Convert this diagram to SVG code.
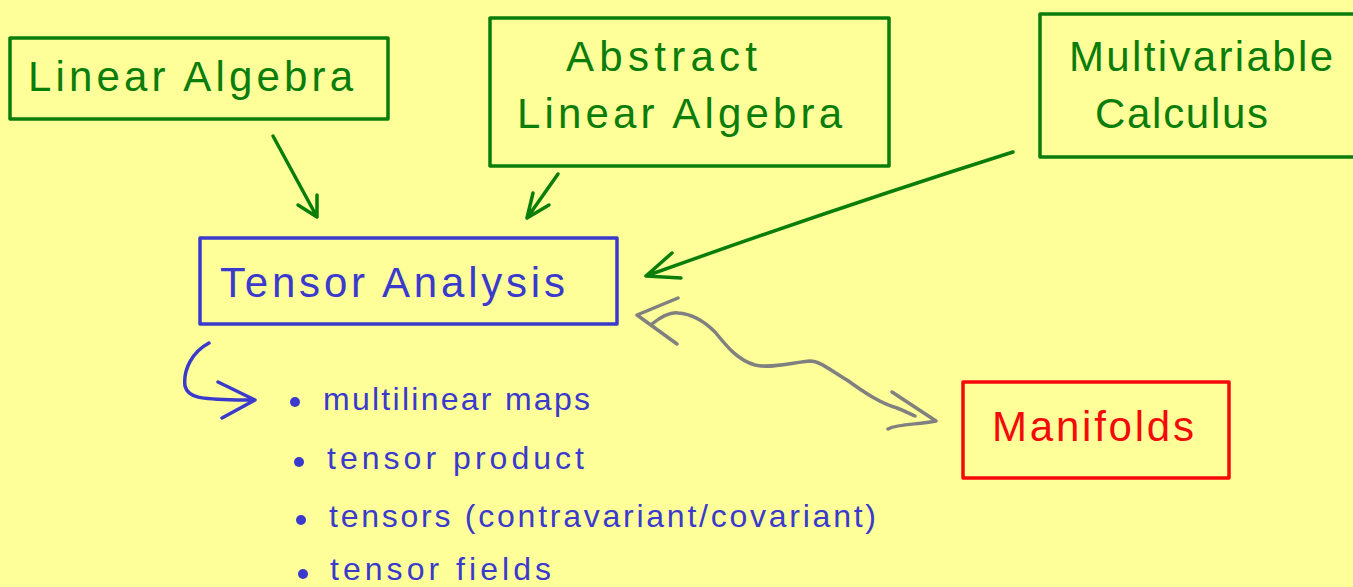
<svg xmlns="http://www.w3.org/2000/svg" width="1353" height="587" viewBox="0 0 1353 587">
<style>
.bx{fill:none;stroke-width:3.5;stroke-linejoin:round}
.g{stroke:#0a7d0a}
.b{stroke:#3a3acc}
.r{stroke:#f50a0a}
.t{font-family:"Liberation Sans",Arial,sans-serif;font-size:42px}
.tg{fill:#0a7d0a}
.tb{fill:#3a3acc}
.tr{fill:#f50a0a}
.li{font-family:"Liberation Sans",Arial,sans-serif;font-size:32px;fill:#3a3acc}
.ln{fill:none;stroke-width:3.5;stroke-linecap:round;stroke-linejoin:round}
</style>
<rect x="0" y="0" width="1353" height="587" fill="#ffff99"/>
<g id="linear-algebra">
<rect class="bx g" x="10" y="38" width="378" height="81"/>
<text class="t tg" x="28" y="91" textLength="325" lengthAdjust="spacing">Linear Algebra</text>
</g>
<g id="abstract-linear-algebra">
<rect class="bx g" x="490" y="18" width="399" height="148"/>
<text class="t tg" x="566" y="71" textLength="191" lengthAdjust="spacing">Abstract</text>
<text class="t tg" x="517" y="128" textLength="325" lengthAdjust="spacing">Linear Algebra</text>
</g>
<g id="multivariable-calculus">
<rect class="bx g" x="1040" y="14" width="330" height="143"/>
<text class="t tg" x="1069" y="71" textLength="264" lengthAdjust="spacing">Multivariable</text>
<text class="t tg" x="1095" y="128" textLength="173" lengthAdjust="spacing">Calculus</text>
</g>
<g id="tensor-analysis">
<rect class="bx b" x="200" y="238" width="417" height="86"/>
<text class="t tb" x="220" y="297" textLength="345" lengthAdjust="spacing">Tensor Analysis</text>
</g>
<g id="manifolds">
<rect class="bx r" x="963" y="382" width="266" height="96"/>
<text class="t tr" x="992" y="441" textLength="202" lengthAdjust="spacing">Manifolds</text>
</g>
<g id="topics">
<circle cx="295" cy="402" r="5" fill="#3a3acc"/>
<text class="li" x="323" y="410" textLength="267" lengthAdjust="spacing">multilinear maps</text>
<circle cx="299" cy="462" r="5" fill="#3a3acc"/>
<text class="li" x="327" y="469" textLength="257" lengthAdjust="spacing">tensor product</text>
<circle cx="301" cy="520" r="5" fill="#3a3acc"/>
<text class="li" x="329" y="527" textLength="547" lengthAdjust="spacing">tensors (contravariant/covariant)</text>
<circle cx="303" cy="574" r="5" fill="#3a3acc"/>
<text class="li" x="330" y="580" font-size="30" textLength="221" lengthAdjust="spacing">tensor fields</text>
</g>
<g id="connectors">
<path class="ln g" d="M273 136 L317 217 M298 205 L317 217 L317 195"/>
<path class="ln g" d="M558 174 L527 218 M549 205 L527 218 L533 193"/>
<path class="ln g" d="M1013 152 Q830 210 646 276 M672 253 L646 276 L681 278"/>
<path class="ln b" d="M209 343 C192 352 183 370 185 386 C188 398 200 399 237 400 L255 400 M218 382 L255 400 L222 418"/>
<path class="ln" stroke="#808080" d="M652 324 C662 316 670 312 678 313 C694 314 705 322 715 332 C728 348 738 360 755 365 C770 369 795 362 810 361 C820 361 830 370 847 380 C865 393 880 403 897 408 C905 411 910 414 915 416 M678 298 L637 315 L677 344 M892 392 L936 421 C918 425 900 423 888 429"/>
</g>
</svg>
